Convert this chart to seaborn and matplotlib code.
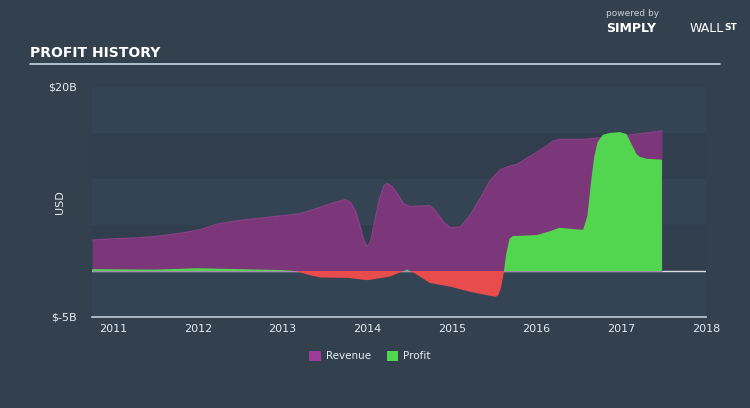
import matplotlib
matplotlib.use("Agg")
import matplotlib.pyplot as plt
import seaborn as sns
import numpy as np
import pandas as pd
from matplotlib.patches import Patch

# ---- data (USD billions) ----
rev_years = [2010.75, 2011.0, 2011.3, 2011.55, 2011.83, 2012.03, 2012.23, 2012.5, 2013.0, 2013.2,
             2013.44, 2013.6, 2013.68, 2013.74, 2013.8, 2013.86, 2013.91, 2013.96, 2014.0, 2014.04,
             2014.09, 2014.15, 2014.2, 2014.24, 2014.29, 2014.36, 2014.43, 2014.5, 2014.74, 2014.8,
             2014.9, 2014.98, 2015.1, 2015.21, 2015.33, 2015.45, 2015.57, 2015.65, 2015.77, 2016.0,
             2016.12, 2016.19, 2016.27, 2016.55, 2017.02, 2017.48]
revenue = [3.35, 3.5, 3.6, 3.8, 4.15, 4.5, 5.1, 5.5, 6.0, 6.2,
           6.9, 7.4, 7.6, 7.75, 7.5, 6.5, 5.0, 3.3, 2.6, 3.2,
           5.5, 8.0, 9.3, 9.5, 9.2, 8.3, 7.3, 7.0, 7.1, 6.6,
           5.3, 4.7, 4.8, 6.0, 7.8, 9.8, 11.0, 11.3, 11.6, 12.9,
           13.6, 14.1, 14.3, 14.3, 14.7, 15.2]

prof_years = [2010.75, 2011.5, 2012.0, 2012.5, 2013.0, 2013.15, 2013.3, 2013.44, 2013.77, 2014.0,
              2014.27, 2014.4, 2014.47, 2014.55, 2014.62, 2014.74, 2014.98, 2015.21, 2015.45, 2015.52,
              2015.55, 2015.58, 2015.61, 2015.64, 2015.68, 2015.72, 2016.0, 2016.15, 2016.27, 2016.5,
              2016.55, 2016.6, 2016.64, 2016.68, 2016.72, 2016.78, 2016.86, 2016.98, 2017.06, 2017.12,
              2017.18, 2017.22, 2017.3, 2017.48]
profit = [0.2, 0.15, 0.3, 0.2, 0.1, 0.0, -0.4, -0.7, -0.75, -1.0,
          -0.6, -0.1, 0.15, -0.2, -0.6, -1.3, -1.7, -2.25, -2.7, -2.8,
          -2.6, -1.8, -0.3, 1.8, 3.5, 3.8, 3.9, 4.3, 4.7, 4.5,
          4.5, 6.0, 9.5, 12.4, 14.0, 14.8, 15.0, 15.1, 14.9, 13.8,
          12.7, 12.4, 12.2, 12.1]

x_ticks = [2011, 2012, 2013, 2014, 2015, 2016, 2017, 2018]
y_labels = {20: "$20B", -5: "$-5B"}

BG = "#33414f"
PURPLE = "#7b3779"
GREEN = "#52d64f"
RED = "#e84c4c"
TXT = "#e6ebef"

sns.set_theme(style="dark")
plt.rcParams["font.family"] = ["DejaVu Sans"]

fig = plt.figure(figsize=(7.5, 4.08), dpi=100, facecolor=BG)
W, H = 750, 408
ax = fig.add_axes([92 / W, (H - 317) / H, (706 - 92) / W, (317 - 87) / H])
ax.set_facecolor(BG)

# horizontal bands
band_cols = ["#354455", "#303e4d", "#354455", "#303e4d", "#354455"]
for i, lo in enumerate(range(15, -10, -5)):
    ax.axhspan(lo, lo + 5, color=band_cols[i], lw=0, zorder=0)

rev_df = pd.DataFrame({"year": rev_years, "revenue": revenue})
prof_df = pd.DataFrame({"year": prof_years, "profit": profit})

ax.axhline(0, color="#d8dee4", lw=1, zorder=1)
ax.fill_between(rev_df["year"], 0, rev_df["revenue"], color=PURPLE, lw=0, zorder=2)
sns.lineplot(data=rev_df, x="year", y="revenue", ax=ax, color="#8a3f87", lw=1, zorder=3)

p = np.array(profit)
ax.fill_between(prof_df["year"], 0, p, where=p >= 0, interpolate=True, color=GREEN, lw=0, zorder=4)
ax.fill_between(prof_df["year"], 0, p, where=p <= 0, interpolate=True, color=RED, lw=0, zorder=4)

ax.set_xlim(2010.75, 2018.0)
ax.set_ylim(-5, 20)
ax.set_xlabel("")
ax.set_ylabel("")
ax.set_yticks([])
ax.set_xticks(x_ticks)
ax.set_xticklabels([str(t) for t in x_ticks], color=TXT, fontsize=8)
ax.tick_params(axis="x", length=6, width=1, color="#c0ccd6", direction="inout", pad=2)
for s in ["top", "right", "left"]:
    ax.spines[s].set_visible(False)
ax.spines["bottom"].set_color("#c0ccd6")
ax.spines["bottom"].set_linewidth(1.2)
ax.grid(False)

for v, lab in y_labels.items():
    ax.text(-0.025, v, lab, transform=ax.get_yaxis_transform(), ha="right", va="center",
            color=TXT, fontsize=8)
fig.text(60 / W, 1 - 202 / H, "USD", rotation=90, ha="center", va="center", color=TXT, fontsize=8)

# title and rule
fig.text(30 / W, 1 - 53 / H, "PROFIT HISTORY", color="white", fontsize=10, fontweight="bold",
         family=["Liberation Sans Narrow", "DejaVu Sans"], va="center")
fig.add_artist(plt.Line2D([30 / W, 720 / W], [1 - 64 / H, 1 - 64 / H], color="#c8d8e4", lw=1.2))

# branding
fig.text(606 / W, 1 - 14 / H, "powered by", color="#c9d1d8", fontsize=6.5, va="center")
fig.text(606 / W, 1 - 28 / H, "SIMPLY", color="white", fontsize=9, fontweight="bold", va="center")
fig.text(690 / W, 1 - 28 / H, "WALL", color="white", fontsize=9, va="center")
fig.text(724 / W, 1 - 27 / H, "ST", color="white", fontsize=6.5, fontweight="bold", va="center")

# legend
handles = [Patch(facecolor="#9b3d98", edgecolor="none", label="Revenue"),
           Patch(facecolor=GREEN, edgecolor="none", label="Profit")]
leg = fig.legend(handles=handles, loc="center", bbox_to_anchor=(370 / W, 1 - 356 / H), ncol=2,
                 frameon=False, fontsize=7.5, handlelength=1.1, handleheight=1.1,
                 columnspacing=1.5, handletextpad=0.5)
for t in leg.get_texts():
    t.set_color(TXT)

fig.savefig("out.png", dpi=100, facecolor=BG)
